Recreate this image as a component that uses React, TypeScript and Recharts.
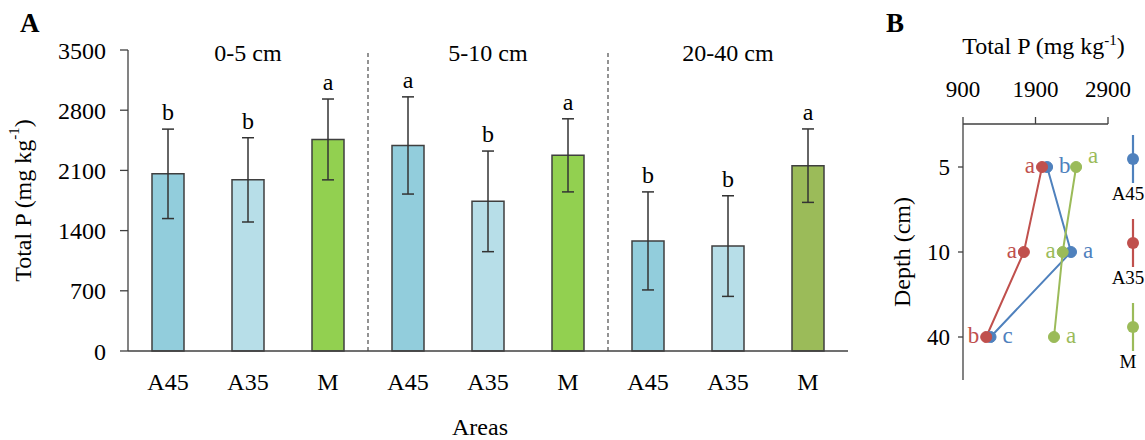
import React from 'react';
import {
  BarChart,
  Bar,
  XAxis,
  YAxis,
  ErrorBar,
  LabelList,
  ReferenceLine,
  Cell,
  LineChart,
  Line,
  Legend,
  Label,
} from 'recharts';

// ---------- data (panel A) ----------
const depthGroups = ['0-5 cm', '5-10 cm', '20-40 cm'];
const areaNames = ['A45', 'A35', 'M'];
const meanA45 = [2060, 2390, 1280];
const meanA35 = [1990, 1740, 1220];
const meanM = [2460, 2275, 2155];
const sdA45 = [520, 565, 570];
const sdA35 = [490, 585, 585];
const sdM = [470, 425, 427];
const lettersA45 = ['b', 'a', 'b'];
const lettersA35 = ['b', 'b', 'b'];
const lettersM = ['a', 'a', 'a'];
const totalPTicks = [0, 700, 1400, 2100, 2800, 3500];

// ---------- data (panel B) ----------
const depthLabels = ['5', '10', '40'];
const profileTicks = [900, 1900, 2900];
const profileLettersA45 = ['b', 'a', 'c'];
const profileLettersA35 = ['a', 'a', 'b'];
const profileLettersM = ['a', 'a', 'a'];

// ---------- styles ----------
const FONT = '"Liberation Serif", "Times New Roman", serif';
const AXIS = '#404040';
const barFills: Record<string, string[]> = {
  A45: ['#92CDDC', '#92CDDC', '#92CDDC'],
  A35: ['#B7DEE8', '#B7DEE8', '#B7DEE8'],
  M: ['#92D050', '#92D050', '#9BBB59'],
};
const lineColors: Record<string, string> = { A45: '#4F81BD', A35: '#C0504D', M: '#9BBB59' };
// where each letter sits relative to its point in panel B: r = right, l = left, ru = right & up
const labelPlacement: Record<string, string[]> = {
  A45: ['r', 'r', 'r'],
  A35: ['l', 'l', 'l'],
  M: ['ru', 'l', 'r'],
};

const means = [meanA45, meanA35, meanM];
const sds = [sdA45, sdA35, sdM];
const letters = [lettersA45, lettersA35, lettersM];

const barRows = depthGroups.flatMap((g, gi) =>
  areaNames.map((a, ai) => ({
    key: `${g}|${a}`,
    group: g,
    area: a,
    gi,
    ai,
    mean: means[ai][gi],
    sd: sds[ai][gi],
    letter: letters[ai][gi],
  }))
);

const profileLetters: Record<string, string[]> = {
  A45: profileLettersA45,
  A35: profileLettersA35,
  M: profileLettersM,
};
const lineRows = depthLabels.map((d, i) => ({
  depth: d,
  A45: meanA45[i],
  A35: meanA35[i],
  M: meanM[i],
}));

const pick = (props: any, k: string) => (props[k] !== undefined ? props[k] : props.viewBox ? props.viewBox[k] : undefined);

const renderBarLetter = (props: any) => {
  const x = pick(props, 'x');
  const y = pick(props, 'y');
  const w = pick(props, 'width');
  const h = pick(props, 'height');
  const row = barRows.find((r) => r.key === props.value);
  if (!row || x == null || y == null) return null;
  const errTop = y - (row.sd * h) / row.mean;
  return (
    <text x={x + w / 2} y={errTop - 9} textAnchor="middle" fontFamily={FONT} fontSize={24} fill="#000">
      {row.letter}
    </text>
  );
};

const makeProfileLetter = (series: string) => (props: any) => {
  const x = pick(props, 'x');
  const y = pick(props, 'y');
  const i = depthLabels.indexOf(String(props.value));
  if (i < 0 || x == null || y == null) return null;
  const place = labelPlacement[series][i];
  const left = place === 'l';
  return (
    <text
      x={left ? x - 7 : x + 12}
      y={place === 'ru' ? y - 4 : y + 6}
      textAnchor={left ? 'end' : 'start'}
      fontFamily={FONT}
      fontSize={23}
      fill={lineColors[series]}
    >
      {profileLetters[series][i]}
    </text>
  );
};

const renderLegend = (props: any) => {
  const payload = [...(props.payload || [])].sort(
    (a: any, b: any) => areaNames.indexOf(String(a.value)) - areaNames.indexOf(String(b.value))
  );
  return (
    <div style={{ width: 50, fontFamily: FONT }}>
      {payload.map((p: any) => (
        <div key={p.value} style={{ height: 84, position: 'relative' }}>
          <svg width={14} height={48} style={{ position: 'absolute', left: 26, top: 0 }}>
            <line x1={7} x2={7} y1={0} y2={48} stroke={p.color} strokeWidth={2.2} />
            <circle cx={7} cy={24} r={6} fill={p.color} />
          </svg>
          <div
            style={{
              position: 'absolute',
              top: 49,
              left: 6,
              width: 44,
              textAlign: 'center',
              fontSize: 19,
              lineHeight: '20px',
              color: '#000',
            }}
          >
            {p.value}
          </div>
        </div>
      ))}
    </div>
  );
};

const tickStyle = { fill: '#000', fontSize: 24, fontFamily: FONT };

export default function App() {
  return (
    <div style={{ position: 'absolute', left: 0, top: 0, width: 1145, height: 440, background: '#fff', fontFamily: FONT }}>
      <div style={{ position: 'absolute', left: 20, top: 10, fontSize: 27, fontWeight: 'bold', lineHeight: '27px' }}>A</div>
      <div style={{ position: 'absolute', left: 886, top: 10, fontSize: 27, fontWeight: 'bold', lineHeight: '27px' }}>B</div>

      <div style={{ position: 'absolute', left: 0, top: 0 }}>
        <BarChart
          width={870}
          height={440}
          data={barRows}
          margin={{ top: 50, right: 22, bottom: 0, left: 68 }}
          barCategoryGap={24}
        >
          <XAxis
            dataKey="key"
            type="category"
            height={89}
            tickFormatter={(v: string) => String(v).split('|')[1]}
            tick={tickStyle}
            tickLine={false}
            tickSize={0}
            tickMargin={22}
            axisLine={{ stroke: AXIS, strokeWidth: 1.3 }}
            interval={0}
          >
            <Label value="Areas" position="insideBottom" offset={5} dx={-8} fill="#000" fontSize={24} fontFamily={FONT} />
          </XAxis>
          <YAxis
            type="number"
            domain={[0, 3500]}
            ticks={totalPTicks}
            width={60}
            tick={tickStyle}
            tickSize={8}
            tickMargin={14}
            tickLine={{ stroke: AXIS, strokeWidth: 1.3 }}
            axisLine={{ stroke: AXIS, strokeWidth: 1.3 }}
            interval={0}
          >
            <Label
              content={(p: any) => {
                const vb = p.viewBox || { x: 68, y: 50, width: 60, height: 301 };
                const cx = vb.x - 45;
                const cy = vb.y + vb.height / 2;
                return (
                  <text
                    x={cx}
                    y={cy}
                    transform={`rotate(-90 ${cx} ${cy})`}
                    textAnchor="middle"
                    dominantBaseline="central"
                    fontFamily={FONT}
                    fontSize={24}
                    fill="#000"
                  >
                    Total P (mg kg
                    <tspan dy={-9} fontSize={15}>-1</tspan>
                    <tspan dy={9}>)</tspan>
                  </text>
                );
              }}
            />
          </YAxis>
          {[1, 2].map((gi) => (
            <ReferenceLine
              key={`sep-${gi}`}
              x={`${depthGroups[gi]}|${areaNames[0]}`}
              position="start"
              stroke="#595959"
              strokeWidth={1.3}
              strokeDasharray="4 3"
            />
          ))}
          {depthGroups.map((g) => (
            <ReferenceLine
              key={`grp-${g}`}
              x={`${g}|${areaNames[1]}`}
              stroke="none"
              label={{ value: g, position: 'insideTop', offset: -6, fontSize: 24, fill: '#000', fontFamily: FONT }}
            />
          ))}
          <Bar dataKey="mean" isAnimationActive={false} stroke="#3F3F3F" strokeWidth={1.5}>
            {barRows.map((r) => (
              <Cell key={r.key} fill={barFills[r.area][r.gi]} />
            ))}
            <ErrorBar dataKey="sd" width={6} stroke="#333333" strokeWidth={1.5} direction="y" />
            <LabelList dataKey="key" content={renderBarLetter} />
          </Bar>
        </BarChart>
      </div>

      <div style={{ position: 'absolute', left: 880, top: 0 }}>
        <LineChart
          layout="vertical"
          width={265}
          height={440}
          data={lineRows}
          margin={{ top: 0, right: 37, bottom: 60, left: 0 }}
        >
          <XAxis
            type="number"
            orientation="top"
            domain={[900, 2900]}
            ticks={profileTicks}
            height={124}
            tick={{ fill: '#000', fontSize: 23, fontFamily: FONT }}
            tickSize={7}
            tickMargin={20}
            tickLine={{ stroke: AXIS, strokeWidth: 1.3 }}
            axisLine={{ stroke: AXIS, strokeWidth: 1.3 }}
            interval={0}
          >
            <Label
              content={(p: any) => {
                const vb = p.viewBox || { x: 83, y: 0, width: 145, height: 124 };
                const cx = vb.x + vb.width / 2 + 8;
                const cy = vb.y + 54;
                return (
                  <text x={cx} y={cy} textAnchor="middle" fontFamily={FONT} fontSize={24} fill="#000">
                    Total P (mg kg
                    <tspan dy={-9} fontSize={15}>-1</tspan>
                    <tspan dy={9}>)</tspan>
                  </text>
                );
              }}
            />
          </XAxis>
          <YAxis
            type="category"
            dataKey="depth"
            width={83}
            padding={{ top: 43, bottom: 43 }}
            tick={{ fill: '#000', fontSize: 23, fontFamily: FONT }}
            tickSize={5}
            tickMargin={8}
            tickLine={{ stroke: AXIS, strokeWidth: 1.3 }}
            axisLine={{ stroke: AXIS, strokeWidth: 1.3 }}
            interval={0}
          >
            <Label
              content={(p: any) => {
                const vb = p.viewBox || { x: 0, y: 124, width: 83, height: 256 };
                const cx = vb.x + 22;
                const cy = vb.y + vb.height / 2;
                return (
                  <text
                    x={cx}
                    y={cy}
                    transform={`rotate(-90 ${cx} ${cy})`}
                    textAnchor="middle"
                    dominantBaseline="central"
                    fontFamily={FONT}
                    fontSize={24}
                    fill="#000"
                  >
                    Depth (cm)
                  </text>
                );
              }}
            />
          </YAxis>
          <Legend
            layout="vertical"
            align="center"
            verticalAlign="middle"
            content={renderLegend}
            wrapperStyle={{ left: 220, top: 135, width: 50, height: 260 }}
          />
          {areaNames.map((s) => (
            <Line
              key={s}
              dataKey={s}
              name={s}
              stroke={lineColors[s]}
              strokeWidth={2}
              dot={{ r: 5.5, fill: lineColors[s], stroke: lineColors[s], strokeWidth: 1 }}
              activeDot={false}
              isAnimationActive={false}
            >
              <LabelList dataKey="depth" content={makeProfileLetter(s)} />
            </Line>
          ))}
        </LineChart>
      </div>
    </div>
  );
}
